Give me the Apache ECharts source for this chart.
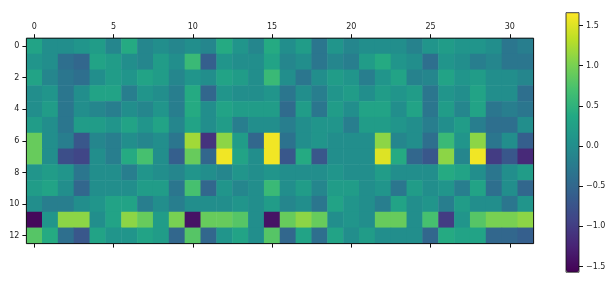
<!DOCTYPE html>
<html>
<head>
<meta charset="utf-8">
<script src="https://cdn.jsdelivr.net/npm/echarts@6/dist/echarts.min.js"></script>
<style>html,body{margin:0;padding:0;background:#fff}#c{width:612px;height:286px}</style>
</head>
<body>
<div id="c"></div>
<script>
const colLabels = Array.from({length: 32}, (_, i) => String(i));
const rowLabels = Array.from({length: 13}, (_, i) => String(i));
const cbTicks = [-1.5, -1.0, -0.5, 0.0, 0.5, 1.0, 1.5];
const vMin = -1.57, vMax = 1.66;

const row0  = [0.3, 0, 0, 0.1, 0.2, -0.1, 0.4, -0.1, 0, -0.1, 0, -0.1, 0.4, 0.1, -0.1, 0.4, 0, 0.2, -0.3, 0.1, -0.1, 0, 0, 0, -0.15, 0.1, 0.2, 0.1, 0.1, 0, -0.3, -0.2];
const row1  = [0.1, 0, -0.4, -0.5, 0.3, 0.2, 0, -0.1, 0.2, 0, 0.6, -0.6, 0.1, 0, 0, 0.3, -0.1, 0, -0.3, -0.1, -0.2, 0.2, 0.4, 0.1, 0, -0.4, 0.1, 0, -0.2, -0.1, -0.3, -0.3];
const row2  = [0.3, -0.1, -0.3, -0.4, 0, 0.2, 0.1, 0.3, 0.2, -0.1, 0.1, 0, 0.3, 0.2, 0, 0.6, 0, -0.3, 0, 0.2, 0.1, -0.2, 0.1, 0.3, -0.15, -0.1, 0.3, 0.1, 0.2, 0, 0, -0.1];
const row3  = [0, 0.1, -0.3, 0, 0.3, 0.3, -0.2, 0.1, 0, -0.2, 0.4, -0.5, 0.1, 0, 0, 0.1, -0.3, 0, -0.2, 0.1, 0.2, 0, 0.2, 0.1, 0.2, -0.3, 0.1, 0, 0.3, 0, 0, -0.4];
const row4  = [0, 0.2, -0.3, 0, -0.1, -0.2, 0, -0.1, 0.1, -0.2, 0.4, 0, 0.3, 0.2, 0.2, 0.2, -0.45, 0.2, -0.3, 0.2, 0, 0.3, 0.3, 0, 0.3, -0.3, 0.2, -0.1, 0.3, -0.3, -0.2, -0.3];
const row5  = [0.2, 0, -0.3, 0.2, 0.2, 0.1, 0.3, 0.1, 0.3, -0.1, 0.3, 0, 0.2, -0.2, 0, 0, -0.2, 0, 0.1, 0.1, -0.2, 0.2, 0.2, 0.1, 0, -0.2, 0, 0.2, -0.2, -0.4, -0.4, 0];
const row6  = [0.9, 0, -0.2, -0.7, -0.1, -0.2, 0, -0.1, 0, -0.3, 1.2, -1.1, 1.1, 0.2, -0.5, 1.6, -0.35, 0, 0.1, 0, 0, 0, 1.1, -0.1, 0, -0.4, 0.6, 0.1, 1.1, -0.3, 0, -0.6];
const row7  = [0.9, 0, -0.8, -0.9, 0, -0.2, 0.4, 0.7, 0, -0.6, 0.9, -0.5, 1.6, 0.3, 0, 1.6, -0.7, 0.4, -0.7, 0, 0, 0, 1.5, 0.4, -0.5, -0.7, 1.1, -0.1, 1.6, -1.0, -0.7, -1.2];
const row8  = [0.1, 0.2, 0.1, -0.3, 0, 0, -0.2, 0.1, 0, -0.1, 0.1, 0, -0.1, 0.1, 0, 0.1, 0, 0, 0, 0.1, 0, 0, 0.2, 0, 0, 0, 0.4, 0.3, 0, -0.3, 0, 0.2];
const row9  = [0.2, 0.3, 0, -0.5, 0, 0, 0, 0.2, 0.2, -0.3, 0.7, -0.5, 0.1, -0.1, 0, 0.6, 0, 0.2, -0.1, 0.2, 0.2, 0, 0.1, -0.3, 0.2, 0, 0.1, -0.2, 0.3, -0.4, 0, -0.5];
const row10 = [0, -0.2, -0.2, 0, 0.1, 0.3, 0.3, -0.2, 0, -0.2, 0, 0, 0, 0.1, 0, 0.2, -0.1, 0, -0.3, 0.3, 0.1, 0, -0.2, 0.3, 0, 0.1, -0.2, 0.2, 0, 0, -0.3, 0.1];
const row11 = [-1.5, 0.1, 1.1, 1.1, 0, 0.3, 1.1, 0.9, 0.2, 1.0, -1.4, 0.9, 0.9, 0.8, 0, -1.4, 0.9, 1.1, 0.9, 0, 0.1, 0, 0.9, 0.9, 0, 0.7, -1.0, 0.1, 0.8, 1.0, 1.0, 1.1];
const row12 = [0.8, 0.4, -0.4, -0.7, 0.3, 0.1, 0.1, 0.3, 0.2, -0.5, 0.8, -0.5, 0.1, 0.3, 0, 0.8, -0.5, 0.3, -0.4, 0.3, 0, 0.2, 0, 0, 0, -0.5, 0.4, 0.3, 0.3, -0.5, -0.5, -0.6];

const rows = [row0, row1, row2, row3, row4, row5, row6, row7, row8, row9, row10, row11, row12];
const viridis = ['#440154','#482475','#414487','#355f8d','#2a788e','#21918c','#22a884','#44bf70','#7ad151','#bddf26','#fde725'];

const data = [];
rows.forEach((r, y) => r.forEach((v, x) => data.push([x, y, v])));

const FONT = 'DejaVu Sans';
const TXT = '#222';
const fmt = v => (v < 0 ? '\u2212' : '') + Math.abs(v).toFixed(1);

const chart = echarts.init(document.getElementById('c'), null, {renderer: 'canvas'});
chart.setOption({
  animation: false,
  backgroundColor: '#fff',
  grid: [
    {left: 26.4, top: 38.2, width: 507.2, height: 205.4, show: true, borderColor: '#111', borderWidth: 1, backgroundColor: 'transparent', z: 10},
    {left: 566, top: 12.7, width: 13, height: 259.5, show: true, borderColor: '#111', borderWidth: 0.8, backgroundColor: 'transparent', z: 10}
  ],
  xAxis: [
    {type: 'category', gridIndex: 0, position: 'top', data: colLabels,
     axisLine: {show: false}, splitLine: {show: false},
     axisTick: {show: true, alignWithLabel: true, interval: i => i % 5 === 0, length: 4, lineStyle: {color: '#111'}},
     axisLabel: {interval: i => i % 5 === 0, fontFamily: FONT, fontSize: 8, color: TXT, margin: 7}},
    {type: 'category', gridIndex: 0, position: 'bottom', data: colLabels,
     axisLine: {show: false}, splitLine: {show: false},
     axisTick: {show: true, alignWithLabel: true, interval: i => i % 5 === 0, length: 4, lineStyle: {color: '#111'}},
     axisLabel: {show: false}},
    {type: 'category', gridIndex: 1, data: [''], show: false}
  ],
  yAxis: [
    {type: 'category', gridIndex: 0, inverse: true, data: rowLabels,
     axisLine: {show: false}, splitLine: {show: false},
     axisTick: {show: true, alignWithLabel: true, interval: i => i % 2 === 0, length: 4, lineStyle: {color: '#111'}},
     axisLabel: {interval: i => i % 2 === 0, fontFamily: FONT, fontSize: 8, color: TXT, margin: 7}},
    {type: 'value', gridIndex: 1, position: 'right', min: vMin, max: vMax,
     axisLine: {show: false}, splitLine: {show: false},
     axisTick: {show: true, customValues: cbTicks, length: 4, lineStyle: {color: '#111'}},
     axisLabel: {customValues: cbTicks, formatter: fmt, fontFamily: FONT, fontSize: 8, color: TXT, margin: 7}}
  ],
  visualMap: {
    type: 'continuous', min: vMin, max: vMax, seriesIndex: 0, dimension: 2,
    left: 566, top: 12.7, padding: 0, itemWidth: 13, itemHeight: 259.5,
    calculable: false, hoverLink: false, text: null, showLabel: false,
    inRange: {color: viridis}
  },
  series: [{
    type: 'heatmap', xAxisIndex: 0, yAxisIndex: 0, data: data,
    itemStyle: {borderWidth: 0}, emphasis: {disabled: true}
  }]
});
</script>
</body>
</html>
